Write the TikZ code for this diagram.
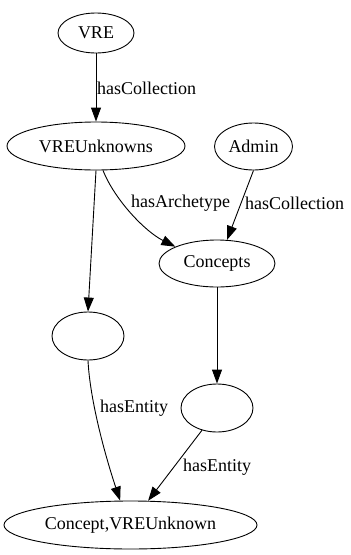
\documentclass[tikz,border=0pt]{standalone}
\usepackage{fontspec}
\setmainfont{Liberation Serif}
\usetikzlibrary{shapes.geometric,arrows.meta}
\begin{document}
\begin{tikzpicture}[x=1pt,y=-1pt,
  every node/.style={font=\fontsize{18}{20}\selectfont},
  oval/.style={draw,ellipse,inner sep=0pt,line width=0.9pt},
  edge/.style={draw,line width=0.9pt,-{Triangle[length=14pt,width=10pt]}},
  lbl/.style={anchor=west,inner sep=0pt}]
\useasboundingbox (0,0) rectangle (351,555);

% nodes
\node[oval,minimum width=76pt,minimum height=40pt]  (vre)    at (96,33)     {VRE};
\node[oval,minimum width=178pt,minimum height=48pt] (vreu)   at (96,146)    {VREUnknowns};
\node[oval,minimum width=78pt,minimum height=47pt]  (admin)  at (253.5,146.5) {Admin};
\node[oval,minimum width=116pt,minimum height=47pt] (concepts) at (217,263.5) {Concepts};
\node[oval,minimum width=72pt,minimum height=48pt]  (e1)     at (88,336)    {};
\node[oval,minimum width=72pt,minimum height=48pt]  (e2)     at (217,408)   {};
\node[oval,minimum width=253pt,minimum height=48pt] (cvu)    at (130.5,525) {Concept,VREUnknown};

% connectors
\draw[edge] (vre) -- (vreu);
\node[lbl] (l1) at (97,88) {hasCollection};

\draw[edge] (vreu.-74) .. controls +(12,30) and +(-30,-15) .. (concepts.158);
\node[lbl] (l2) at (131,203) {hasArchetype};

\draw[edge] (admin.south) -- (concepts.67);
\node[lbl] (l3) at (245,203) {hasCollection};

\draw[edge] (vreu.south) -- (e1.north);
\draw[edge] (concepts.south) -- (e2.north);

\draw[edge] (e1.south) .. controls +(2,40) and +(-15,-45) .. (cvu.113);
\node[lbl] (l4) at (100,408) {hasEntity};

\draw[edge] (e2.-124) -- (cvu.54);
\node[lbl] (l5) at (183,467) {hasEntity};
\end{tikzpicture}
\end{document}
